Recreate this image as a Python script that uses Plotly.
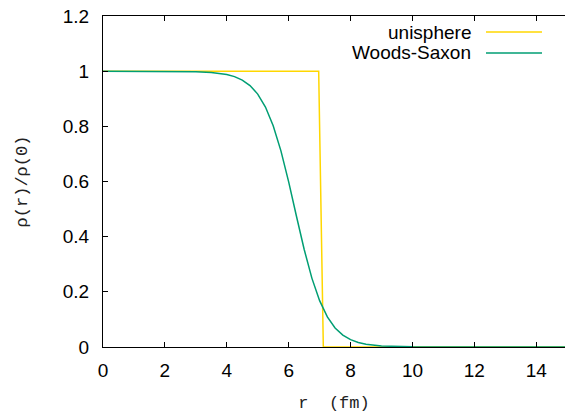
import plotly.graph_objects as go

# Data
uni_r = [0.0, 6.97, 7.12, 15.0]
uni_rho = [1.0, 1.0, 0.0, 0.0]

ws_r = [0, 1, 2, 2.5, 3, 3.5, 4, 4.25, 4.5, 4.75, 5, 5.25, 5.5, 5.75, 6, 6.25,
        6.5, 6.75, 7, 7.25, 7.5, 7.75, 8, 8.25, 8.5, 9, 9.5, 10, 11, 12, 13, 14, 15]
ws_rho = [1.0, 1.0, 0.9998, 0.9994, 0.9983, 0.9955, 0.9879, 0.9802, 0.9677, 0.9479,
          0.9168, 0.8699, 0.8022, 0.7110, 0.5987, 0.4750, 0.3543, 0.2497, 0.1680,
          0.1091, 0.0691, 0.0431, 0.0266, 0.0164, 0.0100, 0.0037, 0.0014, 0.0005,
          0.0001, 0.0, 0.0, 0.0, 0.0]

series_names = ["unisphere", "Woods-Saxon"]
series_colors = ["#ffd700", "#009e73"]

x_ticks = [0, 2, 4, 6, 8, 10, 12, 14]
y_ticks = [0, 0.2, 0.4, 0.6, 0.8, 1.0, 1.2]
y_tick_text = ["0", "0.2", "0.4", "0.6", "0.8", "1", "1.2"]

fig = go.Figure()
fig.add_trace(go.Scatter(x=uni_r, y=uni_rho, mode="lines", name=series_names[0],
                         line=dict(color=series_colors[0], width=1.5)))
fig.add_trace(go.Scatter(x=ws_r, y=ws_rho, mode="lines", name=series_names[1],
                         line=dict(color=series_colors[1], width=1.5)))

W, H = 565, 415
ml, mt, mb = 103, 16, 68

# gnuplot-style legend: right-aligned text, line sample to the right
leg_rows = [32, 53]
for name, color, yp in zip(series_names, series_colors, leg_rows):
    yf = 1 - (yp - mt) / (H - mt - mb)
    fig.add_annotation(x=(473 - ml) / (W - ml), y=yf, xref="paper", yref="paper",
                       text=name, showarrow=False, xanchor="right", yanchor="middle",
                       font=dict(family="Liberation Sans, Arial", size=19, color="black"))
    fig.add_shape(type="line", xref="paper", yref="paper",
                  x0=(486 - ml) / (W - ml), x1=(542 - ml) / (W - ml), y0=yf, y1=yf,
                  line=dict(color=color, width=1.5))

fig.update_layout(
    width=W, height=H,
    margin=dict(l=ml, r=0, t=mt, b=mb, pad=0),
    paper_bgcolor="white", plot_bgcolor="white",
    showlegend=False,
    font=dict(family="Liberation Sans, Arial", size=19, color="black"),
)
fig.update_xaxes(
    range=[0, 14.93], tickvals=x_ticks, ticks="inside", ticklen=5, tickwidth=1,
    tickcolor="black", showline=True, linecolor="black", linewidth=1, mirror="ticks",
    showgrid=False, zeroline=False, ticklabelstandoff=6,
    tickfont=dict(family="Liberation Sans, Arial", size=19),
    title=dict(text="r  (fm)", font=dict(family="Liberation Mono, Courier New", size=17,
                                         color="#222222"),
               standoff=16),
)
fig.update_yaxes(
    range=[0, 1.2], tickvals=y_ticks, ticktext=y_tick_text, ticks="inside", ticklen=5,
    tickwidth=1, tickcolor="black", showline=True, linecolor="black", linewidth=1,
    mirror=False, showgrid=False, zeroline=False, ticklabelstandoff=9,
    tickfont=dict(family="Liberation Sans, Arial", size=19),
    title=dict(text="ρ(r)/ρ(0)", font=dict(family="Liberation Mono, Courier New", size=17,
                                           color="#222222"),
               standoff=30),
)

fig.write_html("out.html")
